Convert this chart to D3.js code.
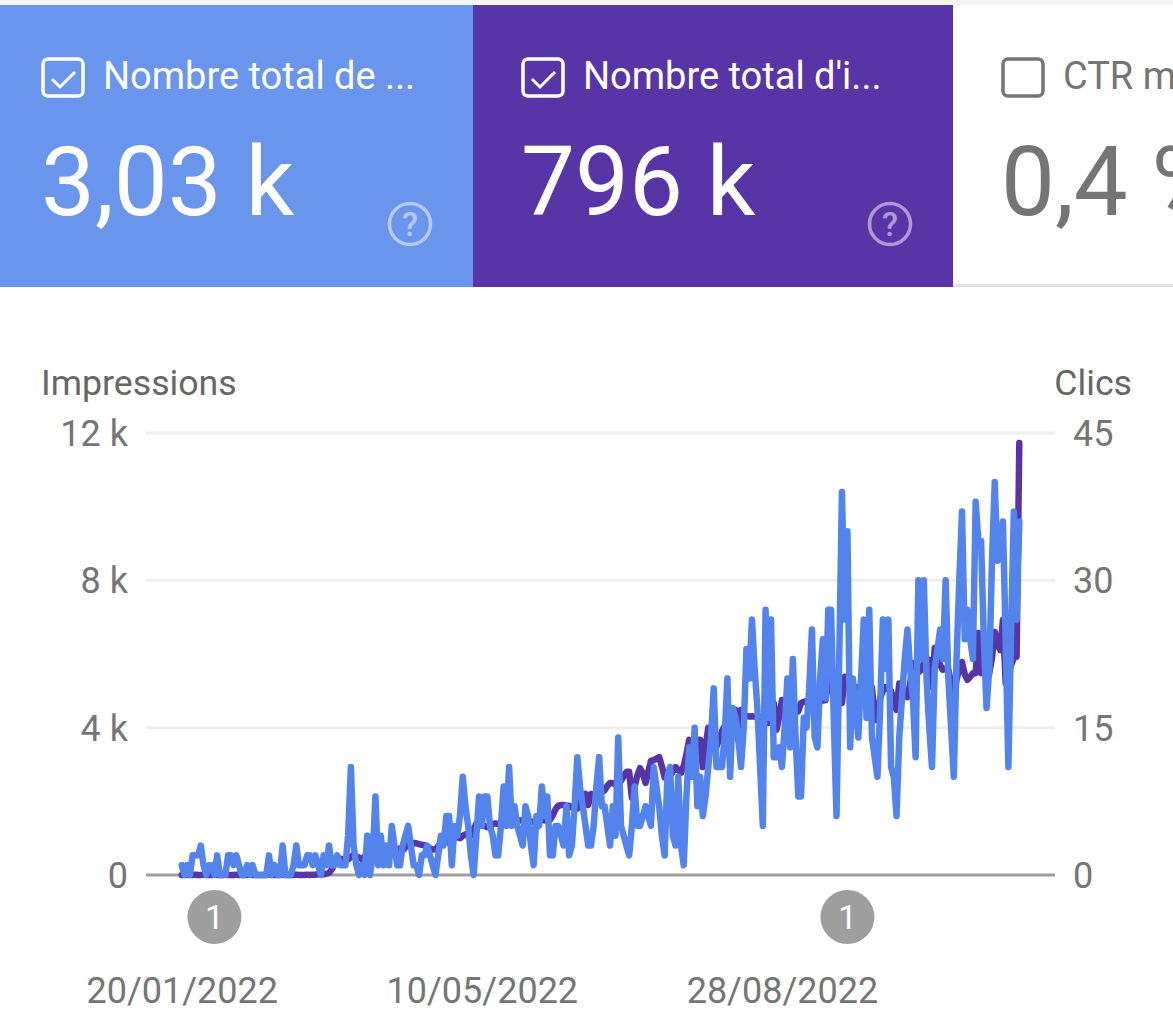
<!DOCTYPE html>
<meta charset="utf-8">
<style>
html, body { margin: 0; background: #fff; overflow: hidden; }
svg { display: block; }
text { font-family: Roboto, sans-serif; }
.tick-label text, .date-axis text { font-size: 36px; fill: #757575; }
.axis-title { font-size: 35.7px; fill: #666; }
</style>
<svg width="1173" height="1027"></svg>
<script src="https://d3js.org/d3.v7.min.js"></script>
<script>

var startDate = new Date(2022, 0, 20);

// clics par jour
var clicks = [
  1,0,1,0,2,2,2,3,1,0,
  1,1,0,2,0,0,0,2,2,1,
  2,1,0,0,1,0,1,0,0,0,
  0,0,2,0,1,0,0,3,0,0,
  0,1,3,1,1,1,2,2,1,2,
  1,0,2,1,3,1,1,2,1,1,
  1,4,11,3,1,0,1,0,4,0,
  2,8,1,4,1,3,1,5,3,1,
  1,3,4,5,3,1,1,0,2,2,
  3,2,1,0,2,4,3,6,6,1,
  5,4,6,10,7,5,2,0,4,8,
  5,8,8,5,4,2,2,5,9,5,
  11,5,7,5,4,3,7,6,3,1,
  6,5,9,6,8,2,2,5,5,4,
  3,7,2,3,7,12,9,7,5,3,
  3,5,9,12,7,7,5,3,7,4,
  14,5,4,3,2,5,9,5,5,6,
  7,6,5,11,9,7,4,2,10,11,
  4,3,10,3,1,8,13,10,15,7,
  10,6,8,11,14,19,11,11,11,14,
  20,10,17,16,14,11,15,23,20,26,
  21,17,11,5,27,16,26,12,12,13,
  11,15,20,13,22,14,8,8,16,15,
  19,25,14,13,20,24,18,27,27,16,
  6,22,39,26,35,13,20,17,14,20,
  26,16,27,14,12,10,17,26,21,26,
  11,10,6,14,18,22,25,21,18,12,
  30,22,30,20,15,11,21,23,25,22,
  30,20,15,10,22,30,37,24,27,24,
  22,38,34,34,24,17,21,32,40,32,
  34,36,24,11,25,37,26,36
];

// impressions par jour
var impressions = [
  0,0,10,0,0,10,0,0,10,0,
  0,0,10,0,0,0,10,0,0,0,
  10,0,0,0,0,10,0,0,0,0,
  0,0,10,0,0,0,0,10,0,0,
  0,0,10,0,0,0,10,0,10,10,
  20,10,20,40,60,150,300,400,450,420,
  450,420,500,550,500,480,430,500,450,520,
  560,500,540,600,560,520,600,640,620,680,
  720,660,760,800,840,870,860,840,820,810,
  780,720,690,700,780,860,900,920,880,960,
  1000,1040,1000,1060,1100,1120,1080,1240,1400,1400,
  1360,1330,1300,1320,1380,1400,1380,1420,1400,1430,
  1400,1440,1420,1460,1480,1480,1450,1460,1440,1450,
  1450,1470,1500,1480,1500,1500,1620,1780,1880,1900,
  1900,1880,1880,1830,1800,1800,1960,2120,2200,1900,
  2200,2180,2210,2250,2250,2300,2420,2500,2500,2450,
  2450,2560,2680,2800,2800,2100,2400,2700,2900,2760,
  2500,2800,3100,3120,3160,3200,2950,2650,2670,2700,
  2800,2930,2850,2770,2960,3280,3670,3500,3580,3670,
  3670,2930,3500,4000,3800,3600,3480,3700,3900,4050,
  4200,4350,4400,4480,3670,4480,4350,4320,4300,4310,
  4300,4280,4300,4280,4200,4130,4300,4670,3940,4300,
  4750,4600,4480,4400,4420,4400,4450,4670,4700,4720,
  4700,4750,4720,4750,4700,4740,4750,5300,5100,4900,
  4800,4700,4670,5380,5200,5000,4800,4900,5100,5000,
  5050,4900,5000,5100,4200,4400,4800,5000,5100,5050,
  5000,4700,4480,5200,5100,4900,4830,5200,5750,5600,
  5500,5570,5750,5800,5840,5100,6160,5900,5700,5570,
  5600,5570,5200,4830,5300,5600,5780,5450,5300,5380,
  5480,5480,6570,5480,5500,5450,5480,5900,6600,6300,
  6110,6920,5210,5500,5700,5900,5920,11730
];

var impressionTicks = [0, 4000, 8000, 12000];
var clickTicks = [0, 15, 30, 45];
var dateTicks = [new Date(2022, 0, 20), new Date(2022, 4, 10), new Date(2022, 7, 28)];
var annotationDates = [new Date(2022, 1, 1), new Date(2022, 8, 21)];
var annotationCounts = ["1", "1"];

var cardNames = ["Nombre total de ...", "Nombre total d'i...", "CTR m"];
var cardValues = ["3,03 k", "796 k", "0,4 %"];
var cardChecked = [true, true, false];

var blue = "#6a95ec", purple = "#5835a7", clickLine = "#5383ec", grey = "#757575";

var svg = d3.select("svg"),
    plotLeft = 146, plotRight = 1055,
    plotTop = 433, plotBottom = 875;

var dayOf = function(i) { return d3.timeDay.offset(startDate, i); };

var x = d3.scaleTime()
    .domain([startDate, dayOf(clicks.length - 1)])
    .range([181.7, 1019.3]);
var yImpressions = d3.scaleLinear().domain([0, 12000]).range([plotBottom, plotTop]);
var yClicks = d3.scaleLinear().domain([0, 45]).range([plotBottom, plotTop]);

// cartes du haut
svg.append("rect").attr("width", 1173).attr("height", 5).attr("fill", "#f3f4f8");
svg.append("rect").attr("x", 953).attr("y", 284).attr("width", 220).attr("height", 3).attr("fill", "#e3e3e3");

var cardX = d3.scaleOrdinal().domain([0, 1, 2]).range([0, 473, 953]);
var cardW = [473, 480, 220];
var cardFill = [blue, purple, "#fff"];

var cards = svg.selectAll(".card")
  .data(cardNames)
  .enter().append("g")
    .attr("class", "card")
    .attr("transform", function(d, i) { return "translate(" + cardX(i) + ",5)"; });

cards.append("rect")
    .attr("width", function(d, i) { return cardW[i]; })
    .attr("height", function(d, i) { return i == 2 ? 279 : 282; })
    .attr("fill", function(d, i) { return cardFill[i]; });

var inkColor = function(d, i) { return cardChecked[i] ? "#fff" : grey; };

cards.append("rect")
    .attr("x", function(d, i) { return i == 0 ? 43 : 50; })
    .attr("y", 54)
    .attr("width", 40).attr("height", 37).attr("rx", 5)
    .attr("fill", "none")
    .attr("stroke-width", 3.5)
    .attr("stroke", inkColor);

cards.filter(function(d, i) { return cardChecked[i]; })
  .append("path")
    .attr("transform", function(d, i) { return "translate(" + (i == 0 ? 43 : 50) + ",54)"; })
    .attr("d", "M9 20 L17 28 L32 13")
    .attr("fill", "none").attr("stroke", "#fff").attr("stroke-width", 3);

cards.append("text")
    .attr("x", function(d, i) { return i == 0 ? 103 : 110; })
    .attr("y", 84)
    .attr("font-size", 38)
    .attr("fill", inkColor)
    .text(function(d) { return d; });

cards.append("text")
    .attr("x", function(d, i) { return i == 0 ? 41 : 48; })
    .attr("y", 210)
    .attr("font-size", 96)
    .attr("fill", inkColor)
    .text(function(d, i) { return cardValues[i]; });

var help = cards.filter(function(d, i) { return cardChecked[i]; }).append("g")
    .attr("transform", function(d, i) { return "translate(" + (i == 0 ? 410 : 417) + ",219)"; })
    .attr("opacity", 0.5);
help.append("circle").attr("r", 20.5).attr("fill", "none").attr("stroke", "#fff").attr("stroke-width", 3.5);
help.append("text").attr("text-anchor", "middle").attr("y", 12).attr("font-size", 33).attr("font-weight", 500).attr("fill", "#fff").text("?");

// axes
svg.append("text").attr("class", "axis-title").attr("x", 41).attr("y", 395).text("Impressions");
svg.append("text").attr("class", "axis-title").attr("x", 1132).attr("y", 395).attr("text-anchor", "end").text("Clics");

svg.selectAll(".grid")
  .data(impressionTicks)
  .enter().append("line")
    .attr("class", "grid")
    .attr("x1", plotLeft).attr("x2", plotRight)
    .attr("y1", yImpressions).attr("y2", yImpressions)
    .attr("stroke", function(d) { return d == 0 ? "#9e9e9e" : "#eeeeee"; })
    .attr("stroke-width", 3);

svg.append("g")
    .attr("class", "tick-label")
    .attr("transform", "translate(128,1)")
    .call(d3.axisLeft(yImpressions).tickValues(impressionTicks).tickSize(0).tickPadding(0)
      .tickFormat(function(d) { return d == 0 ? "0" : d / 1000 + " k"; }))
    .call(function(g) { g.select(".domain").remove(); });

svg.append("g")
    .attr("class", "tick-label")
    .attr("transform", "translate(1073,1)")
    .call(d3.axisRight(yClicks).tickValues(clickTicks).tickSize(0).tickPadding(0))
    .call(function(g) { g.select(".domain").remove(); });

svg.append("g")
    .attr("class", "date-axis")
    .attr("transform", "translate(0,977)")
    .call(d3.axisBottom(x).tickValues(dateTicks).tickSize(0).tickPadding(0)
      .tickFormat(d3.timeFormat("%d/%m/%Y")))
    .call(function(g) { g.select(".domain").remove(); });

// courbes
var impressionLine = d3.line()
    .x(function(d, i) { return x(dayOf(i)); })
    .y(function(d) { return yImpressions(d); });
var clickPath = d3.line()
    .x(function(d, i) { return x(dayOf(i)); })
    .y(function(d) { return yClicks(d); });

svg.append("path")
    .datum(impressions)
    .attr("d", impressionLine)
    .attr("fill", "none").attr("stroke", purple).attr("stroke-width", 6.5)
    .attr("stroke-linejoin", "round").attr("stroke-linecap", "round");

svg.append("path")
    .datum(clicks)
    .attr("d", clickPath)
    .attr("fill", "none").attr("stroke", clickLine).attr("stroke-width", 6.5)
    .attr("stroke-linejoin", "round").attr("stroke-linecap", "round");

// annotations
var notes = svg.selectAll(".note")
  .data(annotationDates)
  .enter().append("g")
    .attr("class", "note")
    .attr("transform", function(d) { return "translate(" + x(d) + ",917)"; });
notes.append("circle").attr("r", 27).attr("fill", "#9e9e9e");
notes.append("text")
    .attr("text-anchor", "middle").attr("y", 12)
    .attr("font-size", 33).attr("fill", "#fff")
    .text(function(d, i) { return annotationCounts[i]; });

</script>
